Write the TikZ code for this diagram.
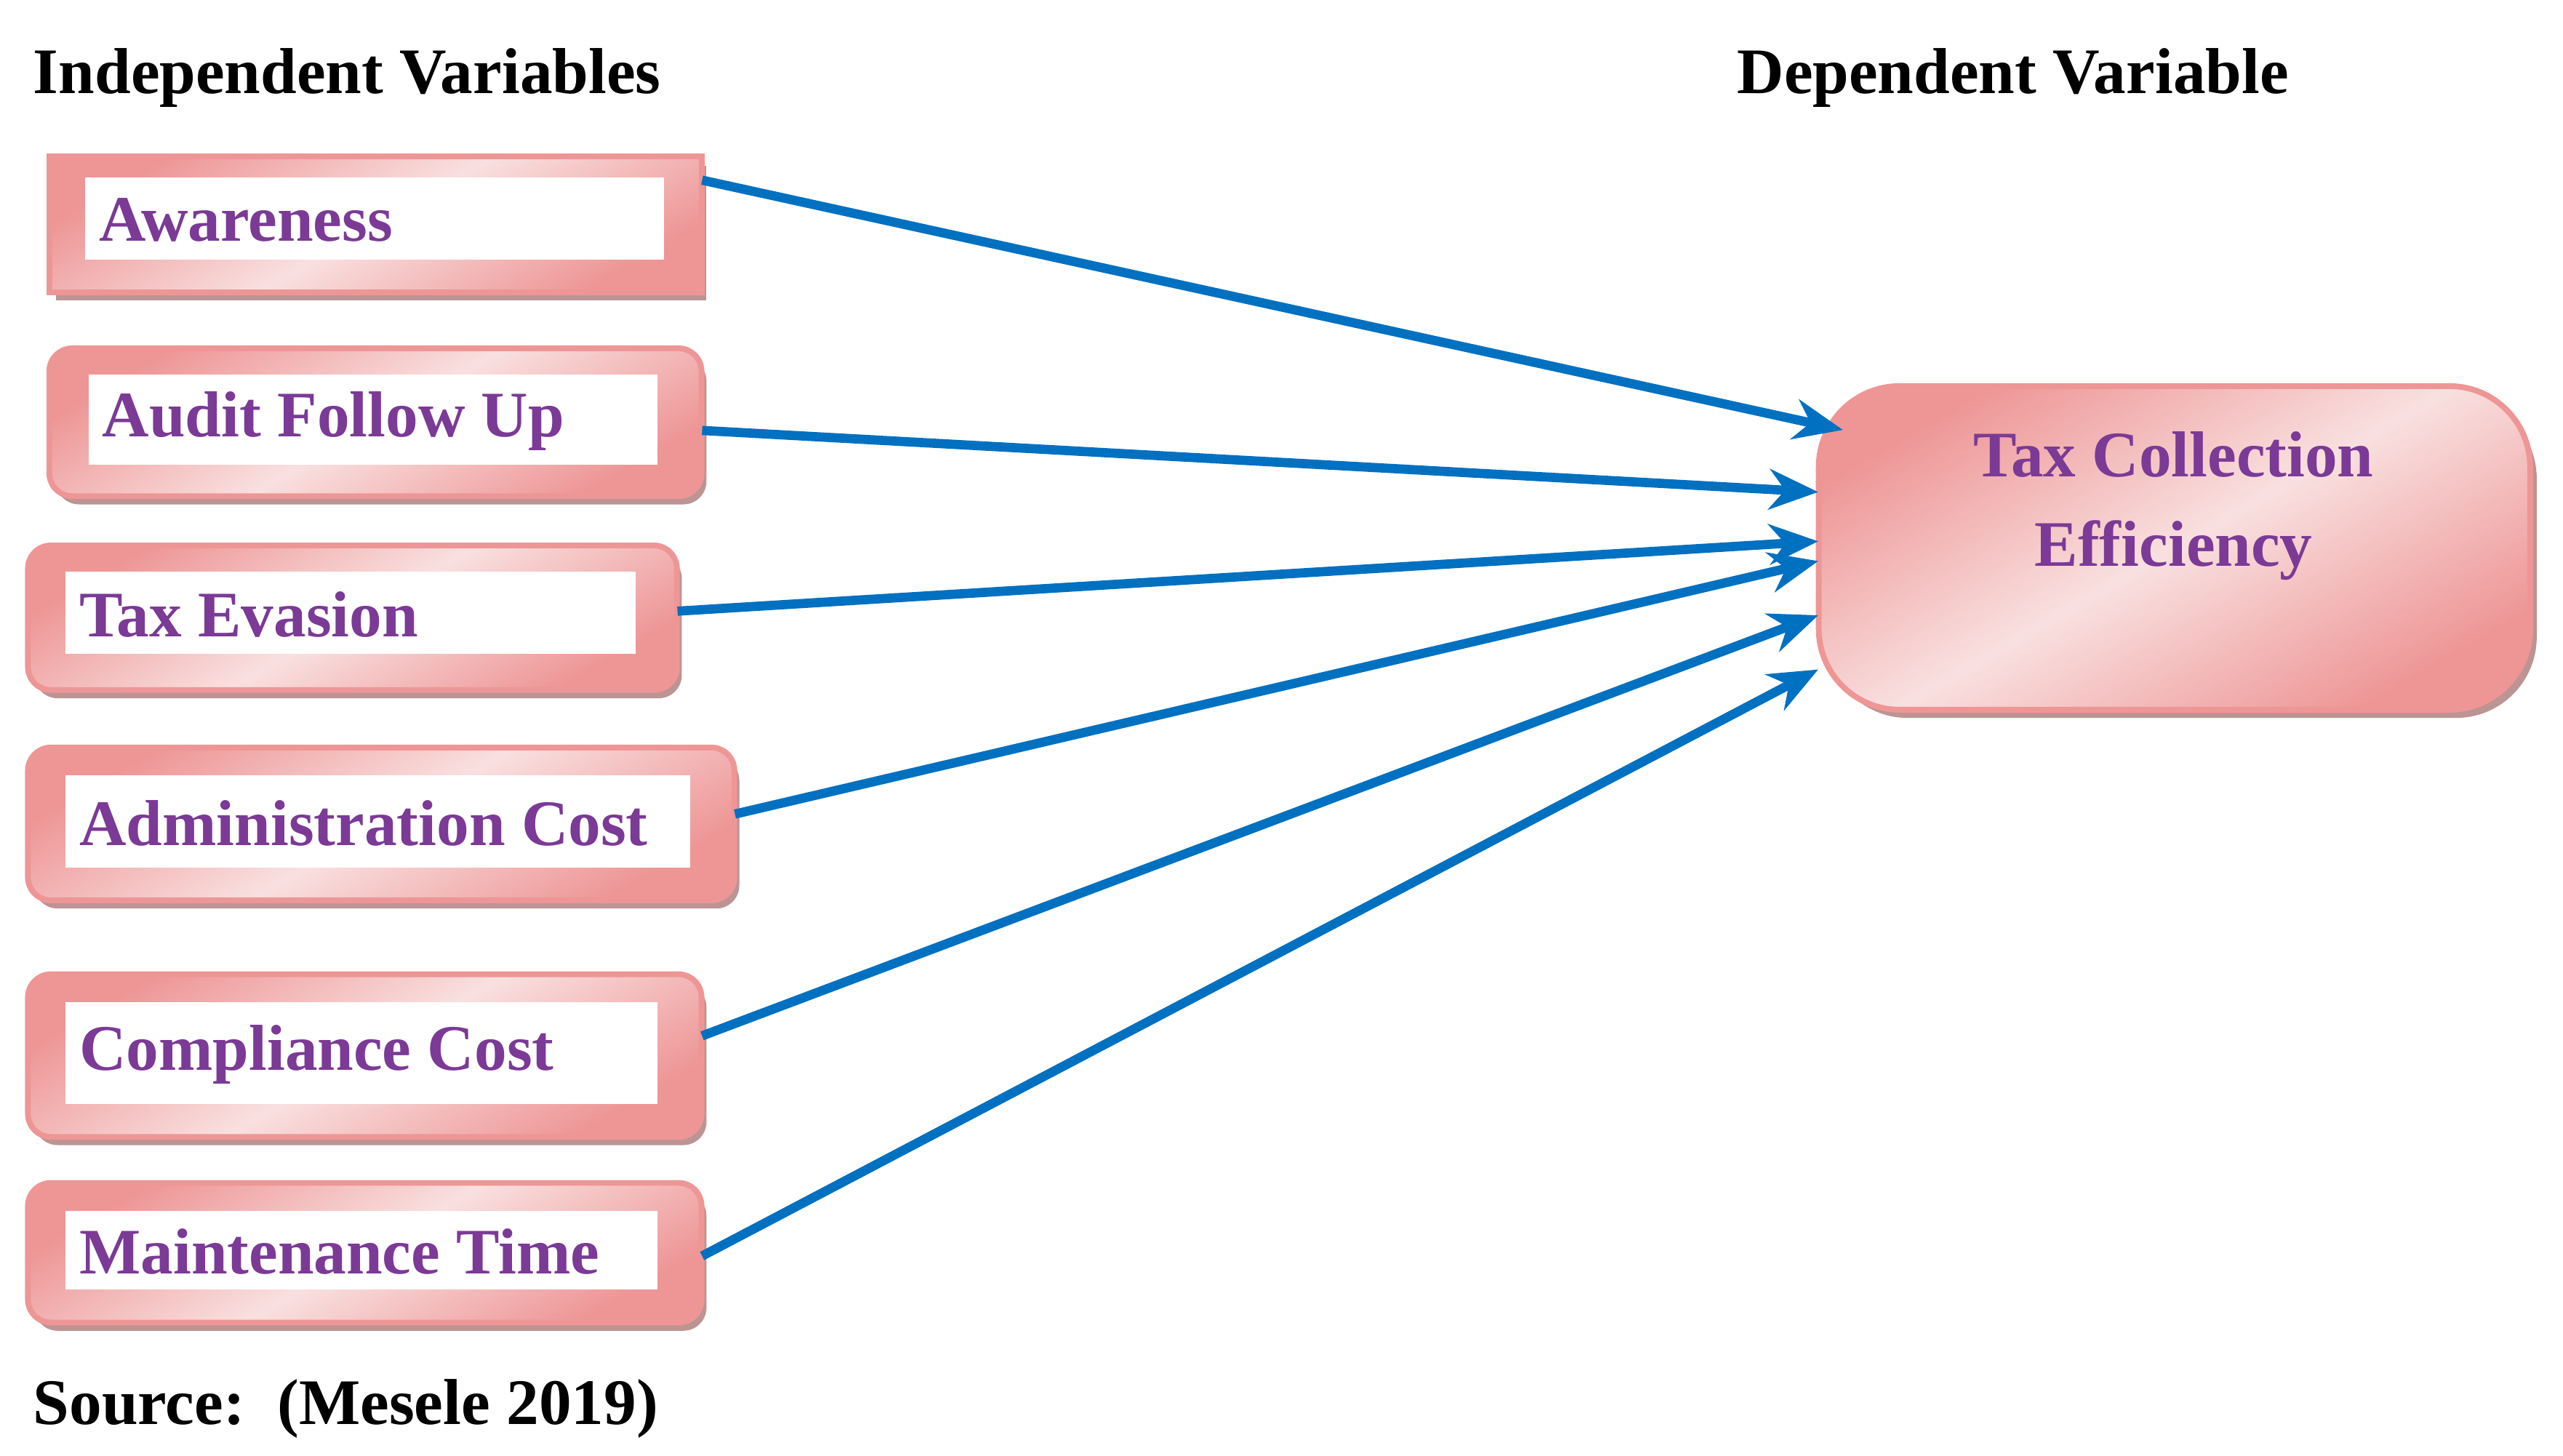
\documentclass[tikz,border=0pt]{standalone}
\usepackage{fontspec}
\setmainfont{Liberation Serif}
\usetikzlibrary{arrows.meta,calc}
\definecolor{pk}{HTML}{EE9696}
\definecolor{pl}{HTML}{F9E0E0}
\definecolor{shd}{HTML}{BC9494}
\definecolor{pur}{HTML}{7B3A96}
\definecolor{arr}{HTML}{0070C0}
\tikzset{
 outerbox/.style={draw=pk,line width=2pt,top color=pk,bottom color=pk,middle color=pl,shading angle=30},
 shadowbox/.style={fill=shd},
 lbl/.style={font=\bfseries\fontsize{22.5}{26}\selectfont,text=pur,anchor=west,inner sep=0pt},
 hdr/.style={font=\bfseries\fontsize{22.5}{26}\selectfont,anchor=base west,inner sep=0pt},
 conn/.style={draw=arr,line width=3.2pt,-{Stealth[length=17pt,width=14pt]}}
}
\begin{document}
\begin{tikzpicture}[x=0.02cm,y=-0.02cm]
\useasboundingbox (0,0) rectangle (1560,886);
\node[hdr] at (20,57) {Independent Variables};
\node[hdr] at (1057,57) {Dependent Variable};
\node[hdr] at (20,867) {Source:\ \ (Mesele 2019)};
\foreach \n/\a/\b/\c/\d/\e/\f/\g/\h/\r/\t in {
 aw/30/95/427/178/52/108/404/158/0/Awareness,
 au/30/212/427/302/54/228/400/283/8/Audit Follow Up,
 te/17/332/412/420/40/348/387/398/8/Tax Evasion,
 ad/17/455/447/548/40/472/420/528/8/Administration Cost,
 co/17/593/427/692/40/610/400/672/8/Compliance Cost,
 ma/17/720/427/805/40/737/400/785/8/Maintenance Time}{
 \fill[shadowbox,rounded corners=\r] (\a+4,\b+6) rectangle (\c+3,\d+5);
 \path[outerbox,rounded corners=\r] (\a,\b) rectangle (\c,\d);
 \fill[white] (\e,\f) rectangle (\g,\h);
 \node[inner sep=0pt] (\n) at ({(\a+\c)/2},{(\b+\d)/2}) [minimum width={(\c-\a)*0.02cm},minimum height={(\d-\b)*0.02cm}] {};
 \node[lbl] (\n t) at (\e+8,{(\f+\h)/2+1}) {\t};
}
\fill[shd,rounded corners=28] (1112,242) rectangle (1544,437);
\path[outerbox,rounded corners=28] (1107,235) rectangle (1540,432);
\node[inner sep=0pt,minimum width=8.66cm,minimum height=3.94cm] (tc) at (1323.5,333.5) {};
\node[align=center,font=\bfseries\fontsize{22.5}{31}\selectfont,text=pur] (tct) at (1323,308) {Tax Collection\\Efficiency};
\draw[conn] (aw.north east) ++(0,15) coordinate (s1) -- ($(tc.north west)+(15,27)$);
\draw[conn] ($(au.east)+(0,5)$) -- ($(tc.west)+(0,-34)$);
\draw[conn] ($(te.east)+(0,-4)$) -- ($(tc.west)+(0,-4)$);
\draw[conn] ($(ad.east)+(0,-6)$) -- ($(tc.west)+(0,8)$);
\draw[conn] ($(co.east)+(0,-12)$) -- ($(tc.west)+(0,41)$);
\draw[conn] ($(ma.east)+(0,2)$) -- ($(tc.west)+(0,74)$);
\end{tikzpicture}
\end{document}
